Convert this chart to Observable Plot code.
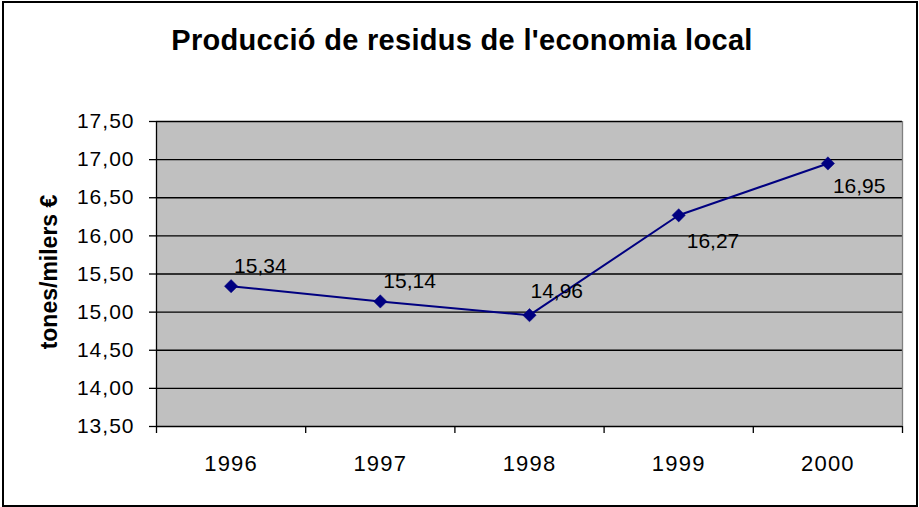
<!DOCTYPE html>
<html>
<head>
<meta charset="utf-8">
<script src="https://cdn.jsdelivr.net/npm/d3@7"></script>
<script src="https://cdn.jsdelivr.net/npm/@observablehq/plot@0.6"></script>
<style>
  html, body { margin: 0; padding: 0; background: #fff; }
  #wrap { position: relative; width: 919px; height: 507px; overflow: hidden; font-family: "Liberation Sans", Arial, sans-serif; }
  #border { position: absolute; left: 2px; top: 1px; width: 912px; height: 502px; border: 2px solid #000; pointer-events: none; }
  #title { position: absolute; left: 0; top: 26px; width: 924px; text-align: center; font-weight: bold; font-size: 29px; line-height: 29px; letter-spacing: 0.3px; color: #000; }
  #chart { position: absolute; left: 0; top: 0; }
  #chart g[aria-label="y-axis tick label"] { font-size: 21px; letter-spacing: 1px; }
  #chart g[aria-label="x-axis tick label"] { font-size: 22px; letter-spacing: 1.2px; }
  #chart g[aria-label="y title"] { font-size: 23px; letter-spacing: 0.7px; }
  #chart g[aria-label="value label"] { font-size: 21px; }
</style>
</head>
<body>
<div id="wrap">
  <div id="chart"></div>
  <div id="title">Producció de residus de l'economia local</div>
  <div id="border"></div>
</div>
<script>
const years = ["1996", "1997", "1998", "1999", "2000"];
const values = [15.34, 15.14, 14.96, 16.27, 16.95];
const yTicks = [13.5, 14, 14.5, 15, 15.5, 16, 16.5, 17, 17.5];
const yLabel = "tones/milers €";

const fmt = d => d.toFixed(2).replace(".", ",");
const data = years.map((year, i) => ({year, pos: i + 1, value: values[i], label: fmt(values[i])}));
const boundaries = d3.range(0.5, years.length + 1, 1);
const centers = years.map((_, i) => i + 1);

const navy = "#000080";
const font = "Liberation Sans, Arial, sans-serif";

// label placement groups (as in the original, labels sit above for the first points, below for the last)
const labelMark = (idx, dx, dy) => Plot.text(data.filter((d, i) => idx.includes(i)), {
  x: "pos", y: "value", text: "label", textAnchor: "start", lineAnchor: "bottom",
  dx, dy, fontSize: 21, fill: "#000", ariaLabel: "value label"
});

const chart = Plot.plot({
  width: 919,
  height: 507,
  marginLeft: 156,
  marginRight: 17,
  marginTop: 121,
  marginBottom: 81,
  style: {fontFamily: font, fontSize: "20px", color: "#000", background: "transparent", overflow: "visible"},
  x: {type: "linear", domain: [0.5, years.length + 0.5]},
  y: {domain: [13.5, 17.5]},
  marks: [
    Plot.frame({fill: "#c0c0c0", stroke: "none"}),
    Plot.ruleY(yTicks, {stroke: "#000", strokeWidth: 1.3}),
    Plot.ruleX([years.length + 0.5], {stroke: "#808080", strokeWidth: 1.3}),
    Plot.ruleX([0.5], {stroke: "#000", strokeWidth: 1.3}),
    Plot.axisY({ticks: yTicks, tickFormat: fmt, tickSize: 7, tickPadding: 15, label: null, fontSize: 21, stroke: "#000", strokeWidth: 1.3}),
    Plot.axisX({ticks: boundaries, tickFormat: () => "", tickSize: 7, label: null, stroke: "#000", strokeWidth: 1.3}),
    Plot.axisX({ticks: centers, tickFormat: (d) => years[d - 1], tickSize: 0, tickPadding: 29, label: null, fontSize: 22}),
    Plot.line(data, {x: "pos", y: "value", stroke: navy, strokeWidth: 2}),
    Plot.dot(data, {x: "pos", y: "value", symbol: "diamond2", r: 6, fill: navy, stroke: navy, strokeWidth: 0.5}),
    labelMark([0, 1], 3, -13),
    labelMark([2], 1, -17),
    labelMark([3], 8, 33),
    labelMark([4], 5, 30),
    Plot.text([yLabel], {frameAnchor: "left", dx: -107, dy: -2, rotate: -90, textAnchor: "middle", fontWeight: "bold", fontSize: 23, fill: "#000", ariaLabel: "y title"})
  ]
});
document.getElementById("chart").appendChild(chart);
</script>
</body>
</html>
